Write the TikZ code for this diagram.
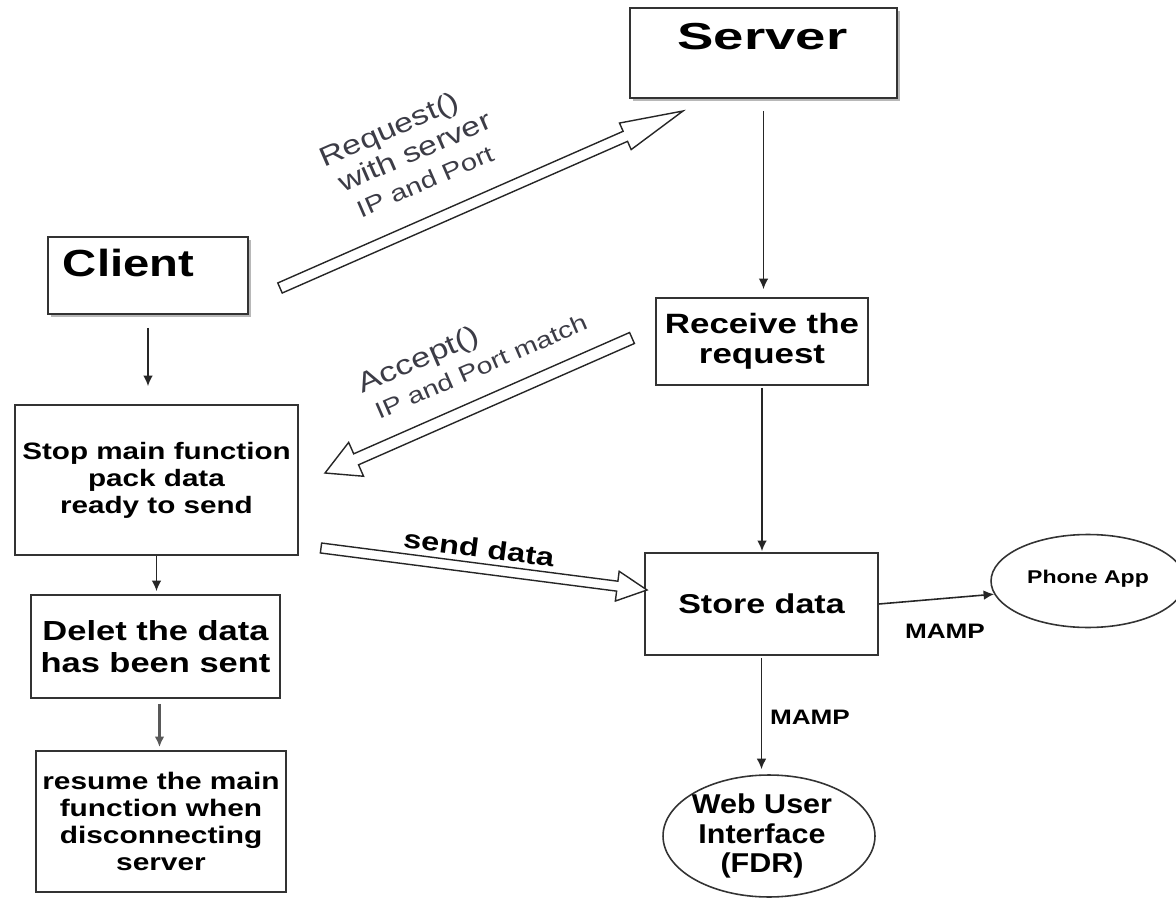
\documentclass[tikz,border=0pt]{standalone}
\usepackage{fontspec}
\setmainfont{Liberation Sans}
\newfontfamily\wf[FakeStretch=1.25]{Liberation Sans}
\newfontfamily\wg[FakeStretch=1.12]{Liberation Sans}
\newfontfamily\ws[FakeStretch=1.45]{Liberation Sans}
\usetikzlibrary{calc,arrows.meta,shapes.geometric,shadows}
\definecolor{lblgray}{RGB}{60,60,70}
\newcommand\hollowarrow[6]{%
  \coordinate (#1h) at ($(#3)!#6!(#2)$);
  \draw[hol] ($(#2)!#4!90:(#3)$) -- ($(#1h)!#4!90:(#3)$) -- ($(#1h)!#5!90:(#3)$) -- (#3)
    -- ($(#1h)!#5!-90:(#3)$) -- ($(#1h)!#4!-90:(#3)$) -- ($(#2)!#4!-90:(#3)$) -- cycle;}
\begin{document}
\begin{tikzpicture}[x=0.02cm,y=-0.02cm,
  box/.style={draw=black!80, line width=1pt, fill=white, inner sep=0pt, align=center},
  shbox/.style={box, drop shadow={shadow xshift=1.6pt, shadow yshift=-1.6pt, fill=black!35, opacity=0.8}},
  oval/.style={ellipse, draw=black!80, line width=0.9pt, fill=white, inner sep=0pt},
  conn/.style={draw=black!85, line width=0.9pt, -{Latex[length=6pt,width=5.5pt]}},
  hol/.style={draw=black!85, line width=0.8pt, fill=white, line join=miter},
  lbl/.style={text=lblgray, inner sep=0pt, rotate=23.5},
]
\useasboundingbox (0,0) rectangle (1176,898);

% boxes
\node[shbox, minimum width=5.34cm, minimum height=1.8cm] (server) at (763.5,53) {};
\node[anchor=base, inner sep=0pt, font=\ws\bfseries\fontsize{21.4}{24}\selectfont] (servertext) at (762.5,50) {Server};

\node[shbox, minimum width=4cm, minimum height=1.54cm] (client) at (148,275.5) {};
\node[anchor=base, inner sep=0pt, font=\wf\bfseries\fontsize{21.5}{24}\selectfont] (clienttext) at (128.5,277) {Client};

\node[box, minimum width=5.66cm, minimum height=3cm, font=\wf\bfseries\fontsize{13.5}{15.3}\selectfont] (stop) at (156.5,480)
  {Stop main function\\pack data\\ready to send};
\node[box, minimum width=4.98cm, minimum height=2.06cm, font=\wf\bfseries\fontsize{15.7}{18.1}\selectfont] (delet) at (155.5,646.5)
  {Delet the data\\has been sent};
\node[box, minimum width=5cm, minimum height=2.82cm, font=\wf\bfseries\fontsize{13.6}{15.3}\selectfont] (resume) at (161,821.5)
  {resume the main\\function when\\disconnecting\\server};
\node[box, minimum width=4.24cm, minimum height=1.74cm, font=\wf\bfseries\fontsize{15.9}{17}\selectfont] (receive) at (762,341.5)
  {Receive the\\request};
\node[box, minimum width=4.66cm, minimum height=2.04cm, font=\wf\bfseries\fontsize{15.5}{17}\selectfont] (store) at (761.5,604)
  {Store data};
\node[oval, minimum width=3.88cm, minimum height=1.86cm] (phone) at (1088,581) {};
\node[inner sep=0pt, font=\wf\bfseries\fontsize{10.5}{12}\selectfont] (phonetext) at (1088,579) {Phone App};
\node[oval, minimum width=4.24cm, minimum height=2.44cm] (web) at (769,836) {};
\node[inner sep=0pt, align=center, font=\wg\bfseries\fontsize{15.5}{17}\selectfont] (webtext) at (762,836)
  {Web User\\Interface\\(FDR)};

% thin connectors
\draw[conn, shorten <=0.26cm, shorten >=0.36cm] (client.south) -- (client.south |- stop.north);
\draw[conn, shorten >=0.06cm] (stop.south) -- (stop.south |- delet.north);
\draw[conn, draw=black!65, line width=1.4pt, shorten <=0.1cm, shorten >=0.06cm] (delet.south) ++(4,0) coordinate (dr) -- (dr |- resume.north);
\draw[conn, shorten <=0.24cm, shorten >=0.16cm] (server.south) -- (server.south |- receive.north);
\draw[conn, shorten <=0.04cm, shorten >=0.02cm] (receive.south) -- (receive.south |- store.north);
\draw[conn] (store.east) -- (phone.188);
\draw[conn, shorten <=0.04cm, shorten >=0.1cm] (store.south) -- (store.south |- web.north);

\node[inner sep=0pt, font=\wf\bfseries\fontsize{11.9}{13}\selectfont] (mamp1) at (945,631) {MAMP};
\node[inner sep=0pt, font=\wf\bfseries\fontsize{11.9}{13}\selectfont] (mamp2) at (810,717) {MAMP};

% hollow block arrows
\coordinate (reqT) at (280,288);
\coordinate (reqH) at (683,111);
\hollowarrow{req}{reqT}{reqH}{0.11cm}{0.29cm}{1.26cm}
\coordinate (accT) at (632,338);
\coordinate (accH) at (325,473);
\hollowarrow{acc}{accT}{accH}{0.12cm}{0.37cm}{0.68cm}
\coordinate (sndT) at (321,548);
\coordinate (sndH) at (647,590);
\hollowarrow{snd}{sndT}{sndH}{0.1cm}{0.3cm}{0.6cm}

% labels on block arrows
\node[lbl, align=center, font=\wf\fontsize{15.4}{17.5}\selectfont] (reqlabel) at (401,157)
  {Request()\\\hspace*{17pt}with server\\\hspace*{14.7pt}{\fontsize{13.3}{17.5}\selectfont IP and Port}};
\node[lbl, align=left, font=\wf\fontsize{15.7}{17.5}\selectfont] (acclabel) at (472,352)
  {Accept()\\\hspace*{2.7pt}{\fontsize{13}{17.5}\selectfont IP and Port match}};
\node[inner sep=0pt, rotate=-7.5, font=\wf\bfseries\fontsize{14.8}{16}\selectfont] (snd1) at (479,548) {send data};
\end{tikzpicture}
\end{document}
